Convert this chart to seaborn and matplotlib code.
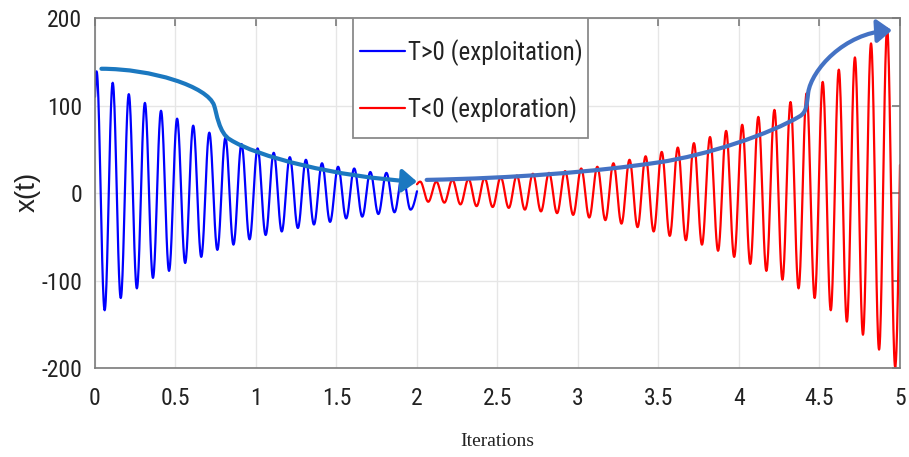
import numpy as np
import pandas as pd
import matplotlib
matplotlib.use("Agg")
import matplotlib.pyplot as plt
import seaborn as sns
from matplotlib import font_manager as fm
from matplotlib.path import Path
from matplotlib.patches import FancyArrowPatch, Rectangle, ArrowStyle
from matplotlib.lines import Line2D

# ---------------- data ----------------
period = 0.1                      # oscillation period (iterations)
t_split = 2.0                     # T changes sign here
t_end = 5.0

# exploitation phase (T>0): decaying oscillation, extrema read per cycle
blue_start_value = 110
blue_first_peak_t = 0.01
blue_peaks = [139, 126, 113, 103, 94, 85, 77, 69, 63, 56,
              51, 46, 41, 38, 34, 30, 28, 24, 23, 21]
blue_troughs = [-134, -120, -109, -97, -89, -80, -73, -65, -59, -53,
                -48, -44, -40, -36, -33, -29, -27, -24, -22, -19]
blue_end_value = 2

# exploration phase (T<0): growing oscillation
red_start_value = 10
red_first_peak_t = 2.02
red_peaks = [13, 13, 15, 16, 17, 18, 20, 22, 23, 25,
             28, 30, 34, 38, 42, 47, 52, 57, 64, 71,
             78, 87, 95, 104, 114, 127, 141, 155, 171, 188]
red_troughs = [-10, -11, -13, -15, -16, -17, -19, -21, -23, -25,
               -28, -31, -35, -39, -44, -49, -54, -59, -66, -73,
               -81, -89, -99, -109, -120, -134, -147, -162, -179, -199]
red_end_value = 32

phase_labels = ["T>0 (exploitation)", "T<0 (exploration)"]
phase_colors = ["#0000ff", "#ff0000"]

x_ticks = [0, 0.5, 1, 1.5, 2, 2.5, 3, 3.5, 4, 4.5, 5]
x_tick_labels = ["0", "0.5", "1", "1.5", "2", "2.5", "3", "3.5", "4", "4.5", "5"]
y_ticks = [-200, -100, 0, 100, 200]
y_tick_labels = ["-200", "-100", "0", "100", "200"]

# guide arrows (cubic Bezier anchor/control points, data coordinates)
decay_arrow = [(0.04, 142), (0.35, 142), (0.70, 122), (0.74, 100),
               (0.755, 92), (0.77, 68), (0.84, 61),
               (1.00, 42), (1.50, 18), (2.00, 13)]
growth_arrow = [(2.06, 15), (2.60, 17), (3.10, 24), (3.50, 35),
                (3.80, 43), (4.20, 68), (4.38, 88),
                (4.42, 93), (4.42, 100), (4.43, 115),
                (4.45, 140), (4.65, 183), (4.95, 186)]


def wave(t0, v0, first_t, peaks, troughs, t1, v1, n=24):
    """Smooth curve through alternating peaks/troughs, half a period apart."""
    ext_t, ext_v = [], []
    for k, (p, q) in enumerate(zip(peaks, troughs)):
        ext_t += [first_t + k * period, first_t + k * period + period / 2]
        ext_v += [p, q]
    s = np.linspace(0, 1, n)
    ts = [t0 + (ext_t[0] - t0) * s]
    vs = [v0 + (ext_v[0] - v0) * np.sin(np.pi / 2 * s)]
    s = s[1:]
    for a in range(len(ext_t) - 1):
        ts.append(ext_t[a] + (ext_t[a + 1] - ext_t[a]) * s)
        vs.append(ext_v[a] + (ext_v[a + 1] - ext_v[a]) * (1 - np.cos(np.pi * s)) / 2)
    ts.append(ext_t[-1] + (t1 - ext_t[-1]) * s)
    vs.append(ext_v[-1] + (v1 - ext_v[-1]) * (1 - np.cos(np.pi / 2 * s)))
    return np.concatenate(ts), np.concatenate(vs)


tb, xb = wave(0.0, blue_start_value, blue_first_peak_t, blue_peaks, blue_troughs,
              t_split, blue_end_value)
tr, xr = wave(t_split, red_start_value, red_first_peak_t, red_peaks, red_troughs,
              t_end, red_end_value)

df = pd.concat([
    pd.DataFrame({"t": tb, "x": xb, "phase": phase_labels[0]}),
    pd.DataFrame({"t": tr, "x": xr, "phase": phase_labels[1]}),
], ignore_index=True)


# ---------------- fonts ----------------
def find_narrow():
    for fam in ["Liberation Sans Narrow", "Arial Narrow", "Roboto Condensed",
                "Open Sans Condensed", "Noto Sans Condensed"]:
        try:
            fm.findfont(fm.FontProperties(family=fam), fallback_to_default=False)
            return fm.FontProperties(family=fam)
        except ValueError:
            pass
    for fam in ["Noto Sans", "Roboto", "Open Sans"]:
        try:
            prop = fm.FontProperties(family=fam, stretch="condensed")
            path = fm.findfont(prop, fallback_to_default=False)
            if "ondensed" in path or "arrow" in path:
                return fm.FontProperties(fname=path)
        except ValueError:
            pass
    return None


narrow = find_narrow()
if narrow is not None:
    base_font = fm.FontProperties(fname=fm.findfont(narrow))
    tick_size, legend_size = 17, 18
else:
    base_font = fm.FontProperties(family="Liberation Sans")
    tick_size, legend_size = 14.5, 15.5

# ---------------- style ----------------
sns.set_style("white")
plt.rcParams["font.family"] = ["Liberation Sans", "DejaVu Sans"]

fig = plt.figure(figsize=(9.09, 4.57), dpi=100)
ax = fig.add_axes([0.1045, 0.1947, 0.8856, 0.7659])

sns.lineplot(data=df, x="t", y="x", hue="phase", hue_order=phase_labels,
             palette=dict(zip(phase_labels, phase_colors)),
             estimator=None, sort=False, linewidth=1.6, legend=False, ax=ax)

ax.set_xlim(0, 5)
ax.set_ylim(-200, 200)
ax.set_xticks(x_ticks)
ax.set_xticklabels(x_tick_labels)
ax.set_yticks(y_ticks)
ax.set_yticklabels(y_tick_labels)
for lab in ax.get_xticklabels() + ax.get_yticklabels():
    lab.set_fontproperties(base_font)
    lab.set_fontsize(tick_size)
    lab.set_color("#222222")

spine_col = "#7a7a7a"
for sp in ax.spines.values():
    sp.set_color(spine_col)
    sp.set_linewidth(1.2)
ax.grid(True, color="#e6e6e6", linewidth=1.0)
ax.set_axisbelow(True)
ax.tick_params(direction="in", length=6, width=1.2, color=spine_col,
               top=True, right=True)
ax.tick_params(axis="x", pad=14)
ax.tick_params(axis="y", pad=9)

ax.set_xlabel("Iterations", family="Liberation Serif", fontsize=14, color="#222222")
ax.xaxis.set_label_coords(0.5, -0.185)
ax.set_ylabel("x(t)", family="Liberation Sans", fontsize=20, color="#222222")
ax.yaxis.set_label_coords(-0.068, 0.503)


def bezier_path(pts):
    codes = [Path.MOVETO] + [Path.CURVE4] * (len(pts) - 1)
    return Path(pts, codes)


for pts, col in [(decay_arrow, "#1b78c0"), (growth_arrow, "#4472c4")]:
    arr = FancyArrowPatch(path=bezier_path(pts),
                          arrowstyle=ArrowStyle("-|>", head_length=0.9, head_width=0.7),
                          mutation_scale=10, color=col, linewidth=3,
                          zorder=6, transform=ax.transData)
    ax.add_patch(arr)

# legend box and entries
ax.add_patch(Rectangle((0.3205, 0.657), 0.2919, 0.343, transform=ax.transAxes,
                       facecolor="white", edgecolor="#8a8a8a", linewidth=1.3,
                       zorder=4))
handles = [Line2D([], [], color=c, linewidth=1.6) for c in phase_colors]
leg_prop = base_font.copy()
leg_prop.set_size(legend_size)
px = legend_size * 100 / 72
leg = ax.legend(handles, phase_labels, loc="upper left",
                bbox_to_anchor=((360 - 95) / 805, 0.94), frameon=False,
                borderpad=0, borderaxespad=0, prop=leg_prop,
                handlelength=45 / px, handletextpad=3 / px,
                labelspacing=30 / px)
leg.set_zorder(5)
for txt in leg.get_texts():
    txt.set_color("#222222")

fig.savefig("out.png", dpi=100)
